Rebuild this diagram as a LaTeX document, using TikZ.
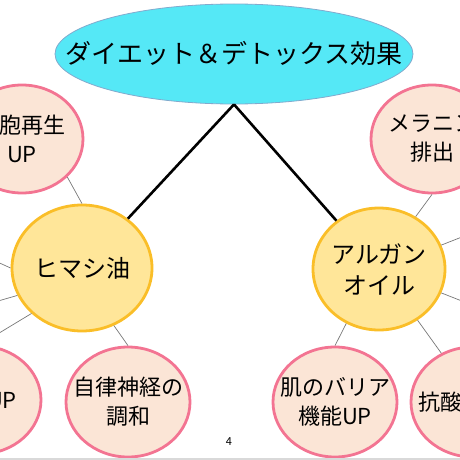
\documentclass[tikz,border=0pt]{standalone}
\usepackage{fontspec}
\newfontfamily\jpfont{Noto Sans CJK JP}
\usetikzlibrary{shapes.geometric}
\definecolor{goalcyan}{RGB}{85,232,246}
\definecolor{goalline}{RGB}{130,170,205}
\definecolor{oilfill}{RGB}{255,230,153}
\definecolor{oilline}{RGB}{250,190,40}
\definecolor{effectfill}{RGB}{251,229,214}
\definecolor{effectline}{RGB}{243,116,146}
\definecolor{linkgray}{RGB}{120,120,120}
\definecolor{framegray}{RGB}{217,217,217}
\newcommand{\bigjp}{\jpfont\fontsize{26}{30}\selectfont}
\newcommand{\oiljp}{\jpfont\fontsize{24}{31}\selectfont}
\newcommand{\effectjp}{\jpfont\fontsize{22}{29}\selectfont}

\begin{document}
\begin{tikzpicture}[x=1pt, y=-1pt, font=\jpfont,
    goal/.style={ellipse, draw=goalline, line width=0.8pt, fill=goalcyan, minimum width=358pt, minimum height=100pt, inner sep=0pt},
    oil/.style={ellipse, draw=oilline, line width=2.8pt, fill=oilfill, inner sep=0pt},
    effect/.style={ellipse, draw=effectline, line width=2.8pt, fill=effectfill, minimum width=122pt, minimum height=108pt, inner sep=0pt},
    branch/.style={line width=2.6pt, black},
    link/.style={line width=0.7pt, linkgray}]
    \useasboundingbox (0,0) rectangle (460,460);
    \clip (0,0) rectangle (460,460);
    % main goal and the two oils
    \node[goal, label={[name=goaltext, font=\bigjp]center:ダイエット＆デトックス効果}] (goal) at (234,54) {};
    \node[oil, minimum width=140pt, minimum height=126pt, label={[name=castortext, font=\oiljp]center:ヒマシ油}] (castor) at (82,268) {};
    \node[oil, minimum width=132pt, minimum height=122pt, label={[name=argantext, font=\oiljp, align=center]center:アルガン\\オイル}] (argan) at (379,269) {};
    % effects
    \node[effect, label={[name=celltext, font=\effectjp, align=center]center:細胞再生\\UP}] (cell) at (22,139) {};
    \node[effect, label={[name=metabotext, font=\effectjp]center:代謝UP}] (metabo) at (-20,400) {};
    \node[effect, minimum width=124pt, minimum height=110pt, label={[name=nervetext, font=\effectjp, align=center]center:自律神経の\\調和}] (nerve) at (128,402) {};
    \node[effect, label={[name=melanintext, font=\effectjp, align=center]center:メラニン\\排出}] (melanin) at (432,139) {};
    \node[effect, minimum width=124pt, minimum height=110pt, label={[name=barriertext, font=\effectjp, align=center]center:肌のバリア\\機能UP}] (barrier) at (335,402) {};
    \node[effect, minimum width=124pt, minimum height=110pt, label={[name=antioxtext, font=\effectjp]center:抗酸化作用}] (antiox) at (473,402) {};
    \coordinate (offleftA) at (-40,245);
    \coordinate (offleftB) at (-40,312);
    \coordinate (offrightA) at (500,222);
    \coordinate (offrightB) at (500,316);
    % connectors
    \draw[branch] (goal.south) -- (castor);
    \draw[branch] (goal.south) -- (argan);
    \draw[link] (cell.-40) -- (castor.north);
    \draw[link] (castor.-61) -- (nerve.north);
    \draw[link] (castor.west) -- (offleftA);
    \draw[link] (castor.203) -- (offleftB);
    \draw[link] (castor.222) -- (metabo.north);
    \draw[link] (argan.55) -- (melanin.south);
    \draw[link] (argan.21) -- (offrightA);
    \draw[link] (argan.-21) -- (offrightB);
    \draw[link] (argan.239) -- (barrier.north);
    \draw[link] (argan.-53) -- (antiox.123);
    \node[font=\jpfont\fontsize{11}{13}\selectfont] (pagenum) at (229,442) {4};
    \fill[framegray] (0,457.8) rectangle (460,460);
\end{tikzpicture}
\end{document}
